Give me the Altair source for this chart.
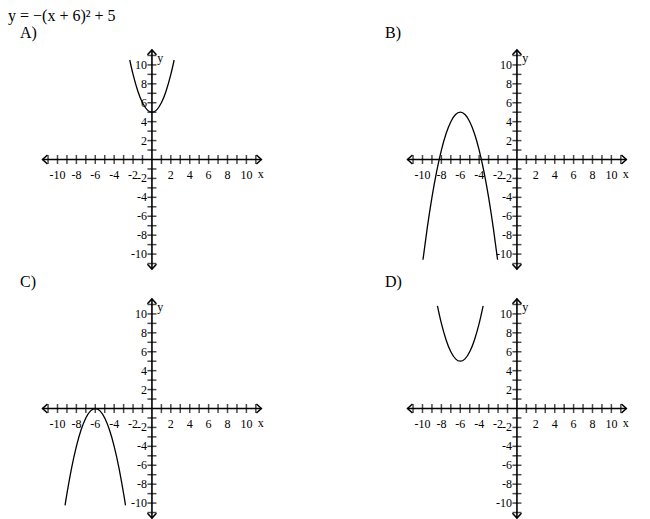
import altair as alt
import pandas as pd

# ---------------- data ----------------
TITLE = "y = \u2212(x + 6)\u00b2 + 5"
PANELS = ["A)", "B)", "C)", "D)"]

TICKS = [-11, -10, -9, -8, -7, -6, -5, -4, -3, -2, -1, 1, 2, 3, 4, 5, 6, 7, 8, 9, 10, 11]
LABELS = [-10, -8, -6, -4, -2, 2, 4, 6, 8, 10]
AXIS_END = 11.6
X_NAME_AT = 11.2
Y_NAME_AT = 10.7

# curves
A_X = [-2.35, -2, -1.5, -1, -0.5, 0, 0.5, 1, 1.5, 2, 2.35]
A_Y = [10.52, 9, 7.25, 6, 5.25, 5, 5.25, 6, 7.25, 9, 10.52]

B_X = [-9.95, -9.5, -9, -8.5, -8, -7.5, -7, -6.5, -6, -5.5, -5, -4.5, -4, -3.5, -3, -2.5, -2.05]
B_Y = [-10.6, -7.25, -4, -1.25, 1, 2.75, 4, 4.75, 5, 4.75, 4, 2.75, 1, -1.25, -4, -7.25, -10.6]

C_X = [-9.2, -9, -8.5, -8, -7.5, -7, -6.5, -6, -5.5, -5, -4.5, -4, -3.5, -3, -2.8]
C_Y = [-10.24, -9, -6.25, -4, -2.25, -1, -0.25, 0, -0.25, -1, -2.25, -4, -6.25, -9, -10.24]

D_X = [-8.42, -8, -7.5, -7, -6.5, -6, -5.5, -5, -4.5, -4, -3.58]
D_Y = [10.86, 9, 7.25, 6, 5.25, 5, 5.25, 6, 7.25, 9, 10.86]

CURVES = [(A_X, A_Y), (B_X, B_Y), (C_X, C_Y), (D_X, D_Y)]

# ---------------- chart ----------------
FONT = "Liberation Serif"
XDOM = [-14.5, 12.5]
YDOM = [-12, 12]
W = 255
H = 227

xs = alt.Scale(domain=XDOM, nice=False, zero=False)
ys = alt.Scale(domain=YDOM, nice=False, zero=False)

CHEVRON = "M-0.6,-1L0.5,0L-0.6,1"


def X(f):
    return alt.X(f, type="quantitative", scale=xs, axis=None)


def Y(f):
    return alt.Y(f, type="quantitative", scale=ys, axis=None)


def panel(label, cx, cy):
    axes_h = alt.Chart(pd.DataFrame({"x": [-AXIS_END], "x2": [AXIS_END], "y": [0]})).mark_rule(
        color="black", strokeWidth=1.6
    ).encode(x=X("x"), x2="x2", y=Y("y"))
    axes_v = alt.Chart(pd.DataFrame({"y": [-AXIS_END], "y2": [AXIS_END], "x": [0]})).mark_rule(
        color="black", strokeWidth=1.6
    ).encode(y=Y("y"), y2="y2", x=X("x"))

    xt = alt.Chart(pd.DataFrame({"x": TICKS, "y": [0] * len(TICKS)})).mark_tick(
        orient="vertical", size=9, thickness=1.5, color="black"
    ).encode(x=X("x"), y=Y("y"))
    yt = alt.Chart(pd.DataFrame({"y": TICKS, "x": [0] * len(TICKS)})).mark_tick(
        orient="horizontal", size=9, thickness=1.5, color="black"
    ).encode(x=X("x"), y=Y("y"))

    arrows = alt.Chart(
        pd.DataFrame(
            {
                "x": [AXIS_END - 0.25, -AXIS_END + 0.25, 0, 0],
                "y": [0, 0, AXIS_END - 0.25, -AXIS_END + 0.25],
                "ang": [0, 180, 270, 90],
            }
        )
    ).mark_point(shape=CHEVRON, size=81, filled=False, strokeWidth=1.5, color="black", opacity=1).encode(
        x=X("x"), y=Y("y"), angle=alt.Angle("ang:Q", scale=None)
    )

    xl = alt.Chart(pd.DataFrame({"x": LABELS, "y": [0] * len(LABELS), "t": [str(v) for v in LABELS]})).mark_text(
        font=FONT, fontSize=12, dy=15, baseline="middle", align="center", color="black"
    ).encode(x=X("x"), y=Y("y"), text="t:N")
    yl = alt.Chart(pd.DataFrame({"y": LABELS, "x": [0] * len(LABELS), "t": [str(v) for v in LABELS]})).mark_text(
        font=FONT, fontSize=12, dx=-5, baseline="middle", align="right", color="black"
    ).encode(x=X("x"), y=Y("y"), text="t:N")

    xname = alt.Chart(pd.DataFrame({"x": [X_NAME_AT], "y": [0], "t": ["x"]})).mark_text(
        font=FONT, fontSize=12, dy=14, baseline="middle", align="left", color="black"
    ).encode(x=X("x"), y=Y("y"), text="t:N")
    yname = alt.Chart(pd.DataFrame({"x": [0.55], "y": [Y_NAME_AT], "t": ["y"]})).mark_text(
        font=FONT, fontSize=12, baseline="middle", align="left", color="black"
    ).encode(x=X("x"), y=Y("y"), text="t:N")

    curve = alt.Chart(pd.DataFrame({"x": cx, "y": cy})).mark_line(
        color="black", strokeWidth=1.3, interpolate="natural"
    ).encode(x=X("x"), y=Y("y"), order="x:Q")

    return alt.layer(axes_h, axes_v, xt, yt, arrows, xl, yl, xname, yname, curve).properties(
        width=W,
        height=H,
        title=alt.TitleParams(
            label,
            anchor="start",
            font=FONT,
            fontSize=16,
            fontWeight="normal",
            color="black",
            dx=5,
            offset=5,
            frame="group",
        ),
    )


charts = [panel(lbl, cx, cy) for lbl, (cx, cy) in zip(PANELS, CURVES)]

chart = (
    alt.concat(*charts, columns=2, spacing={"row": 22, "column": 110}, bounds="flush")
    .properties(
        title=alt.TitleParams(
            TITLE, anchor="start", font=FONT, fontSize=16, fontWeight="normal", color="black", dx=-7, offset=1
        ),
        padding={"left": 0, "top": 0, "right": 5, "bottom": 0},
        background="white",
    )
    .configure_view(strokeWidth=0)
)

chart.save("out.html", embed_options={"renderer": "svg", "actions": False})
